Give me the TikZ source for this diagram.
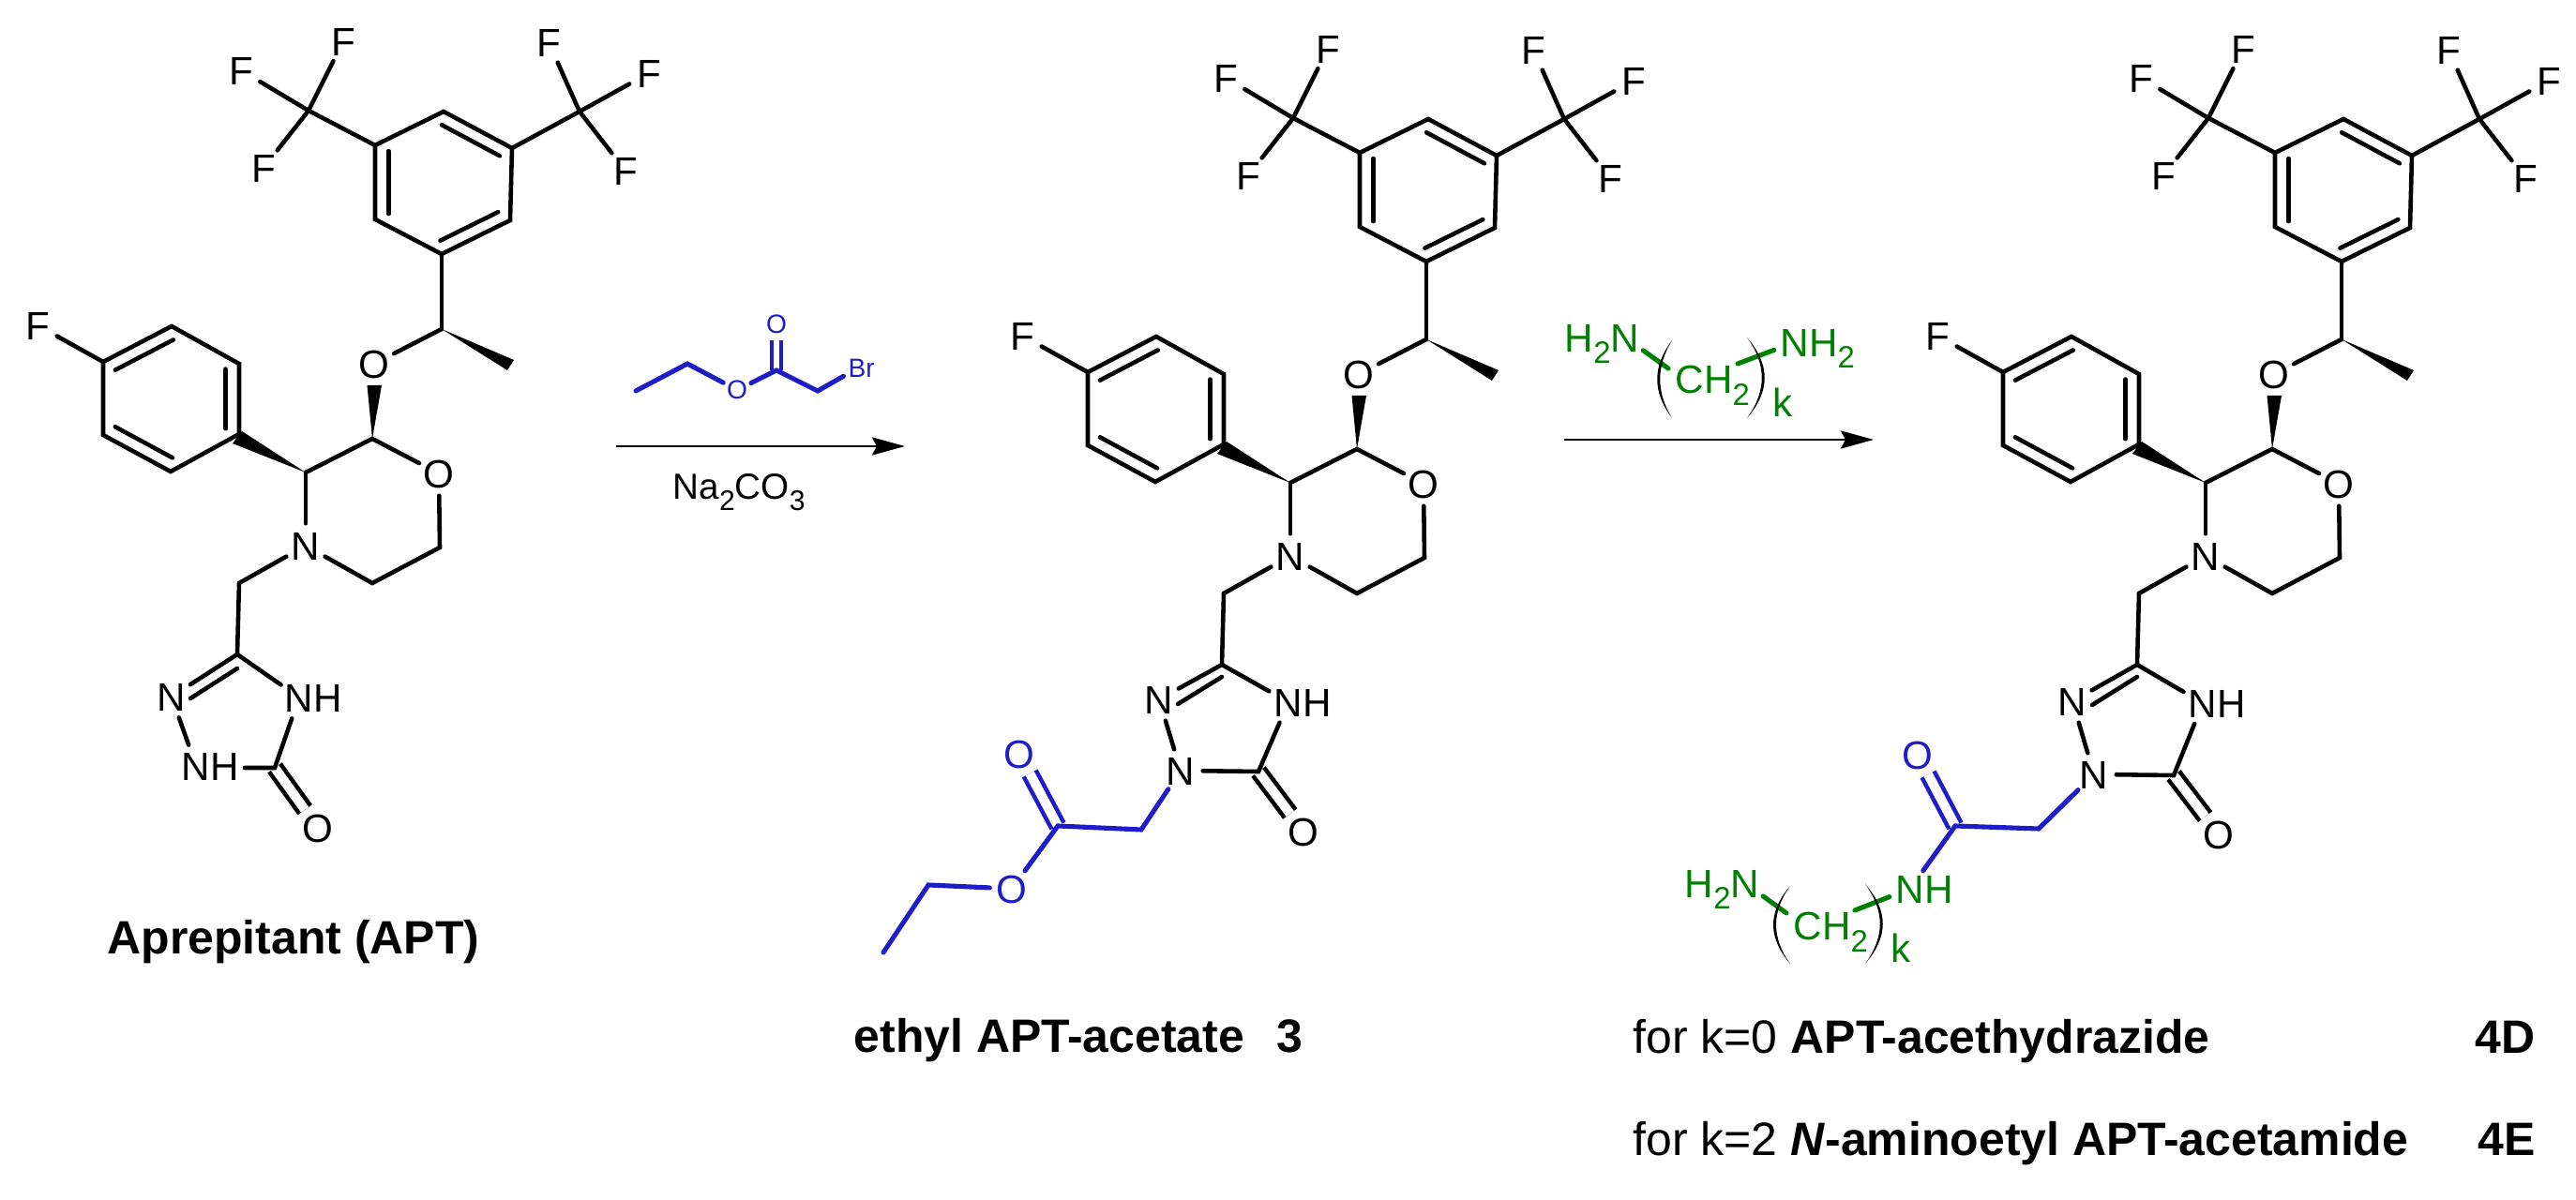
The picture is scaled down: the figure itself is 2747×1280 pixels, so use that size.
\documentclass[tikz,border=0pt]{standalone}
\usepackage{fontspec}
\setmainfont{Liberation Sans}
\usetikzlibrary{calc,arrows.meta}
\definecolor{estblue}{RGB}{30,30,200}
\definecolor{amgreen}{RGB}{0,128,0}
\newcommand{\lowsub}[1]{\raisebox{-0.3em}{\scalebox{0.78}{#1}}}
\newcommand{\ringdouble}[3]{\draw[bond] ($(#1)!-.03!(#2)!.2!(#3)$) -- ($(#2)!-.03!(#1)!.2!(#3)$);}
\tikzset{
	bond/.style={line width=1.3pt, line cap=round, line join=miter},
	tintbond/.style={bond, line width=1.45pt},
	cobond/.style={line width=1.3pt, double, double distance=1mm},
	atom/.style={circle, inner sep=0pt, minimum size=4.6mm, text height=8.6pt, text depth=0pt, font=\fontsize{12}{14}\selectfont},
	smallatom/.style={circle, inner sep=0pt, minimum size=3.2mm, text height=5.6pt, text depth=0pt, text=estblue, font=\fontsize{8}{10}\selectfont},
	linker/.style={anchor=base west, inner sep=0pt, text=amgreen, font=\fontsize{12}{14}\selectfont},
	caption/.style={anchor=base west, inner sep=0pt, font=\fontsize{14.2}{16}\selectfont},
	rxnarrow/.style={line width=0.7pt, -{Stealth[length=3.5mm,width=1.9mm,inset=0.5mm]}}
}
% the part that all three molecules share, #1 moves the CF3 ring up or down
\newcommand{\aptcore}[1]{
	\begin{scope}[shift={(0,#1)}]
	\coordinate (a1) at (473,116);
	\coordinate (a2) at (546,155);
	\coordinate (a3) at (544,232);
	\coordinate (a4) at (471,268);
	\coordinate (a5) at (400,231);
	\coordinate (a6) at (400,152);
	\coordinate (actr) at (472,192);
	\draw[bond] (a1) -- (a2) -- (a3) -- (a4) -- (a5) -- (a6) -- cycle;
	\ringdouble{a1}{a2}{actr}
	\ringdouble{a3}{a4}{actr}
	\ringdouble{a5}{a6}{actr}
	
	\coordinate (cfl) at (329,115);
	\node[atom] (fl1) at (366,41) {F};
	\node[atom] (fl2) at (257,72) {F};
	\node[atom] (fl3) at (281,176) {F};
	\draw[bond] (a6) -- (cfl);
	\foreach \f in {fl1,fl2,fl3} \draw[bond] (cfl) -- (\f);
	
	\coordinate (cfr) at (618,116);
	\node[atom] (fr1) at (585,42) {F};
	\node[atom] (fr2) at (692,75) {F};
	\node[atom] (fr3) at (667,179) {F};
	\draw[bond] (a2) -- (cfr);
	\foreach \f in {fr1,fr2,fr3} \draw[bond] (cfr) -- (\f);
	\end{scope}
	
	\coordinate (chme) at (471,351);
	\coordinate (mew1) at (548,384);
	\coordinate (mew2) at (541,395);
	\node[atom] (oeth) at (399,388) {O};
	\draw[bond] (a4) -- (chme);
	\draw[bond] (chme) -- (oeth);
	\fill (chme) -- (mew1) -- (mew2) -- cycle;
	
	\coordinate (c2) at (397,468);
	\coordinate (c3) at (326,504);
	\node[atom] (omor) at (468,505) {O};
	\node[atom] (nmor) at (326,582) {N};
	\coordinate (c5m) at (469,584);
	\coordinate (c6m) at (397,622);
	\coordinate (nch) at (255,622);
	\fill (c2) -- (391.5,411) -- (407,411) -- cycle;
	\draw[bond] (c3) -- (c2) -- (omor);
	\draw[bond] (omor) -- (c5m) -- (c6m) -- (nmor);
	\draw[bond] (nmor) -- (c3);
	\draw[bond] (nmor) -- (nch);
	
	\coordinate (b1) at (183,348);
	\coordinate (b2) at (255,388);
	\coordinate (b3) at (255,463);
	\coordinate (b4) at (182,503);
	\coordinate (b5) at (110,464);
	\coordinate (b6) at (110,386);
	\coordinate (bctr) at (183,425);
	\draw[bond] (b1) -- (b2) -- (b3) -- (b4) -- (b5) -- (b6) -- cycle;
	\ringdouble{b6}{b1}{bctr}
	\ringdouble{b2}{b3}{bctr}
	\ringdouble{b4}{b5}{bctr}
	\node[atom] (fb) at (40,347) {F};
	\draw[bond] (b6) -- (fb);
	\fill (c3) -- (258,460) -- (248,473) -- cycle;
	
	\coordinate (trc) at (253,698);
	\draw[bond] (nch) -- (trc);
}
\begin{document}
\begin{tikzpicture}[x=0.01cm, y=-0.01cm]
	\useasboundingbox (0,0) rectangle (2747,1280);
	
	%%% aprepitant
	\begin{scope}[name prefix=one-]
		\aptcore{3}
	\end{scope}
	\node[atom] (n1a) at (183,743) {N};
	\node[atom] (n2a) at (209,817) {N\rlap{H}};
	\node[atom] (n4a) at (319,744) {N\rlap{H}};
	\node[atom] (oa) at (339,883) {O};
	\coordinate (c5a) at (293,819);
	\coordinate (n2agap) at (261,819);
	\draw[cobond] (c5a) -- (oa);
	\draw[bond] (one-trc) -- (n1a);
	\draw[bond] ($(one-trc)+(0,15)$) -- ($(n1a)+(20,2)$);
	\draw[bond] (one-trc) -- (n4a);
	\draw[bond] (n1a) -- (n2a);
	\draw[bond] (n2agap) -- (c5a) -- (n4a);
	\node[caption] (capa) at (114,1018) {\textbf{Aprepitant (APT)}};
	
	%%% first step
	\node[smallatom] (ro1) at (786,416) {O};
	\node[smallatom] (ro2) at (828,346) {O};
	\node[smallatom] (rbr) at (914,393) {B\rlap{r}};
	\coordinate (rme) at (678,417);
	\coordinate (rch) at (733,388);
	\coordinate (rco) at (828,395);
	\coordinate (rcb) at (872,417);
	\draw[line width=1.2pt, estblue, double, double distance=0.55mm] (rco) -- (ro2);
	\draw[tintbond, estblue] (rme) -- (rch) -- (ro1);
	\draw[tintbond, estblue] (ro1) -- (rco) -- (rcb) -- (rbr);
	\coordinate (arr1s) at (657,476);
	\coordinate (arr1e) at (965,476);
	\draw[rxnarrow] (arr1s) -- (arr1e);
	\node[anchor=base west, inner sep=0pt, font=\fontsize{11}{13}\selectfont] (nacarb) at (717,533) {Na\lowsub{2}CO\lowsub{3}};
	
	%%% ethyl ester
	\begin{scope}[shift={(1050,11)}, name prefix=two-]
		\aptcore{0}
	\end{scope}
	\node[atom] (n1b) at (1236,746) {N};
	\node[atom] (n2b) at (1259,822) {N};
	\node[atom] (n4b) at (1374,749) {N\rlap{H}};
	\node[atom] (ob) at (1390,887) {O};
	\coordinate (c5b) at (1342,823);
	\draw[cobond] (c5b) -- (ob);
	\draw[bond] (two-trc) -- (n1b);
	\draw[bond] ($(two-trc)+(0,13)$) -- ($(n1b)+(20,5)$);
	\draw[bond] (two-trc) -- (n4b);
	\draw[bond] (n1b) -- (n2b);
	\draw[bond] (n2b) -- (c5b) -- (n4b);
	\node[atom, text=estblue] (oub) at (1087,804) {O};
	\node[atom, text=estblue] (olb) at (1079,948) {O};
	\coordinate (chb) at (1217,885);
	\coordinate (cob) at (1128,881);
	\coordinate (etb) at (990,944);
	\coordinate (meb) at (942,1016);
	\draw[cobond, estblue] (cob) -- (oub);
	\draw[tintbond, estblue] (n2b) -- (chb) -- (cob) -- (olb);
	\draw[tintbond, estblue] (olb) -- (etb) -- (meb);
	\node[caption] (capb) at (910,1123) {\textbf{ethyl APT-acetate\hspace{0.7em}3}};
	
	%%% second step
	\node[atom, text=amgreen] (rn1) at (1733,360) {\llap{H\lowsub{2}}N};
	\node[atom, text=amgreen] (rn2) at (1914,365) {N\rlap{H\lowsub{2}}};
	\coordinate (rl1) at (1779,393);
	\coordinate (rl2) at (1853,388);
	\draw[tintbond, amgreen] (rn1) -- (rl1);
	\draw[tintbond, amgreen] (rl2) -- (rn2);
	\fill (1783,363) .. controls (1762,391) and (1762,418) .. (1783,446) .. controls (1766,418) and (1766,391) .. (1783,363);
	\fill (1863,360) .. controls (1888,389) and (1888,417) .. (1863,446) .. controls (1884,417) and (1884,389) .. (1863,360);
	\node[linker] (rch2) at (1786,420) {CH\lowsub{2}};
	\node[linker] (rk) at (1890,445) {k};
	\coordinate (arr2s) at (1668,469);
	\coordinate (arr2e) at (1998,469);
	\draw[rxnarrow] (arr2s) -- (arr2e);
	
	%%% hydrazide / amide
	\begin{scope}[shift={(2026,11)}, name prefix=three-]
		\aptcore{0}
	\end{scope}
	\node[atom] (n1c) at (2210,748) {N};
	\node[atom] (n2c) at (2233,826) {N};
	\node[atom] (n4c) at (2349,750) {N\rlap{H}};
	\node[atom] (oc) at (2366,890) {O};
	\coordinate (c5c) at (2318,827);
	\draw[cobond] (c5c) -- (oc);
	\draw[bond] (three-trc) -- (n1c);
	\draw[bond] ($(three-trc)+(0,13)$) -- ($(n1c)+(21,4)$);
	\draw[bond] (three-trc) -- (n4c);
	\draw[bond] (n1c) -- (n2c);
	\draw[bond] (n2c) -- (c5c) -- (n4c);
	\node[atom, text=estblue] (ouc) at (2045,805) {O};
	\node[atom, text=amgreen] (nhc) at (2037,948) {N\rlap{H}};
	\coordinate (chc) at (2174,884);
	\coordinate (coc) at (2085,881);
	\draw[cobond, estblue] (coc) -- (ouc);
	\draw[tintbond, estblue] (n2c) -- (chc) -- (coc) -- (nhc);
	\node[atom, text=amgreen] (nh2c) at (1861,942) {\llap{H\lowsub{2}}N};
	\coordinate (lk1) at (1905,974);
	\coordinate (lk2) at (1978,971);
	\draw[tintbond, amgreen] (nh2c) -- (lk1);
	\draw[tintbond, amgreen] (lk2) -- (nhc);
	\fill (1909,945) .. controls (1885,973) and (1885,1000) .. (1909,1028) .. controls (1889,1000) and (1889,973) .. (1909,945);
	\fill (1989,943) .. controls (2014,972) and (2014,999) .. (1989,1028) .. controls (2010,999) and (2010,972) .. (1989,943);
	\node[linker] (cch2) at (1912,1003) {CH\lowsub{2}};
	\node[linker] (ck) at (2016,1027) {k};
	
	\node[caption] (capd) at (1741,1124) {for k=0 \textbf{APT-acethydrazide}};
	\node[caption] (cape) at (1741,1233) {for k=2 \textbf{\textit{N}-aminoetyl APT-acetamide}};
	\node[caption] (lbld) at (2639,1124) {\textbf{4D}};
	\node[caption] (lble) at (2642,1233) {\textbf{4E}};
\end{tikzpicture}
\end{document}
